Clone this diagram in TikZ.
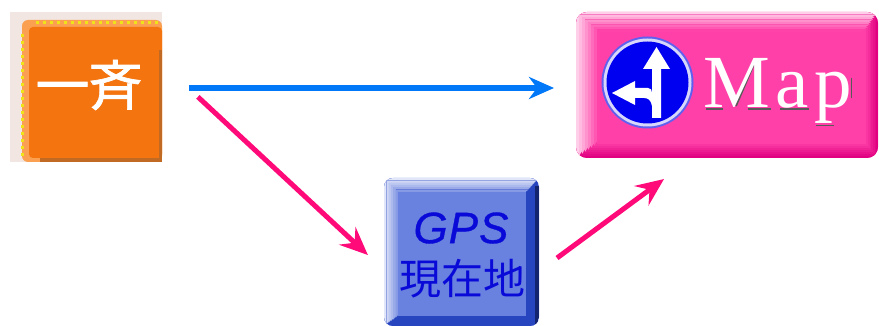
\documentclass[tikz,border=0pt]{standalone}
\usepackage{fontspec}
\setmainfont{Liberation Serif}
\newfontfamily\jpfont{Noto Sans CJK JP}
\newfontfamily\jpbold[FakeBold=1.2]{Noto Sans CJK JP}
\newfontfamily\gpsfont[FakeBold=0.8]{Liberation Sans}
\usetikzlibrary{arrows.meta,calc}
\definecolor{orangeFill}{HTML}{F47410}
\definecolor{orangeLight}{HTML}{FAA050}
\definecolor{orangeDark}{HTML}{C06A24}
\definecolor{speckle}{HTML}{F2E6E2}
\definecolor{dotYellow}{HTML}{EEE418}
\definecolor{mapFill}{HTML}{FF40A8}
\definecolor{mapDark}{HTML}{E00080}
\definecolor{gpsFill}{HTML}{6A82DF}
\definecolor{gpsDark}{HTML}{2845C0}
\definecolor{gpsNavy}{HTML}{14246E}
\definecolor{gpsText}{HTML}{0A0AD8}
\definecolor{flow}{HTML}{0078F8}
\definecolor{hot}{HTML}{FF0A78}
\definecolor{signBlue}{HTML}{0000F0}
\definecolor{signEdge}{HTML}{6060F0}
\tikzset{
  x=1pt,y=-1pt,
  boxnode/.style={inner sep=0pt,outer sep=0pt,minimum width=#1},
  flowline/.style={draw=flow,line width=6pt,-{Stealth[length=25pt,width=22pt,inset=8pt]}},
  hotline/.style={draw=hot,line width=5pt,-{Stealth[length=28pt,width=24pt,inset=10pt]}},
  signarrow/.style={fill=white,draw=none},
  glyphshade/.style={draw=black!65,line width=1.8pt},
}
\begin{document}
\begin{tikzpicture}
\useasboundingbox (0,0) rectangle (879,326);
% orange box
\node[boxnode=152pt,minimum height=150pt,fill=speckle,anchor=north west] (ichi) at (10,12) {};
\fill[orangeLight,rounded corners=6pt] (22,20) -- (162,20) -- (162,162) -- (22,162) -- cycle;
\fill[orangeFill,rounded corners=4pt] (29,27) -- (162,27) -- (162,158) -- (29,158) -- cycle;
\fill[orangeDark] (158.5,50) rectangle (162,162);
\fill[orangeDark] (40,158.5) rectangle (162,162);
\foreach \k in {0,...,17} {
  \fill[dotYellow] ({36+\k*7},21) rectangle +(3,3);
  \fill[dotYellow] (21,{34+\k*7}) rectangle +(3,3);
}
\node[font=\jpbold,text=white,inner sep=0pt] (ichitext) at (89,85) {\fontsize{54pt}{54pt}\selectfont 一\kern-1pt 斉};
% map button
\node[boxnode=302pt,minimum height=146pt,rounded corners=11pt,fill=mapFill,anchor=north west] (map) at (576,12) {};
\begin{scope}
  \clip[rounded corners=11pt] (576,12) rectangle (878,158);
  \foreach \i in {0,...,7} {
    \pgfmathsetmacro{\lt}{75-\i*10.5}
    \pgfmathsetmacro{\dk}{100-\i*14}
    \pgfmathsetmacro{\xa}{576+\i*3}
    \pgfmathsetmacro{\ya}{12+\i*2.5}
    \pgfmathsetmacro{\xb}{878-\i*1.7}
    \pgfmathsetmacro{\yb}{158-\i*2}
    \fill[mapDark!\dk!mapFill] (\xa,\ya) rectangle (\xb,\yb);
    \fill[white!\lt!mapFill] (\xa,\yb) -- (\xa,\ya) -- (\xb,\ya) -- ({\xb-40},{\ya+25}) -- ({\xa+25},{\yb-40}) -- cycle;
  }
  \fill[mapFill] (600,32) rectangle (866,144);
\end{scope}
\fill[signEdge] (647.5,82.5) circle (46);
\fill[white!75!signEdge] (647.5,82.5) circle (44);
\fill[signBlue] (647.5,82.5) circle (41);
\fill[signarrow] (652,118) -- (661,118) -- (661,69) -- (670,69) -- (656.5,47) -- (643,69) -- (652,69) -- cycle;
\fill[signarrow] (612,93) -- (635,81) -- (635,88) -- (648,88) .. controls (651,88) and (652,90) .. (652,93)
  -- (652,106) .. controls (651,100) and (648,98) .. (644,98) -- (635,98) -- (635,105) -- cycle;
% dark edge of the raised letters
\draw[glyphshade] (706,109) -- (723,109);
\draw[glyphshade] (748,109) -- (771,109);
\draw[glyphshade] (736,106) -- (754,64);
\draw[glyphshade] (780,109) -- (809,109);
\draw[glyphshade] (801,84) -- (801,106);
\draw[glyphshade] (816,125.5) -- (834,125.5);
\draw[glyphshade] (851.5,78) -- (851.5,98);
\node[anchor=base west,inner sep=0pt,text=white] (maptext) at (703,108) {\fontsize{75pt}{75pt}\selectfont M\kern5.5pt a\kern5.5pt p};
% gps button
\node[boxnode=155pt,minimum height=148pt,rounded corners=9pt,fill=gpsFill,anchor=north west] (gps) at (384,178) {};
\begin{scope}
  \clip[rounded corners=9pt] (384,178) rectangle (539,326);
  \foreach \i in {0,...,6} {
    \pgfmathsetmacro{\lt}{80-\i*12}
    \pgfmathsetmacro{\xa}{384+\i*2.3}
    \pgfmathsetmacro{\ya}{178+\i*2.3}
    \pgfmathsetmacro{\xb}{539-\i*2.1}
    \pgfmathsetmacro{\yb}{326-\i*1.6}
    \fill[gpsDark] (\xa,\ya) rectangle (\xb,\yb);
    \fill[white!\lt!gpsFill] (\xa,\yb) -- (\xa,\ya) -- (\xb,\ya) -- ({\xb-30},{\ya+25}) -- ({\xa+25},{\yb-30}) -- cycle;
  }
  \fill[gpsFill] (398,192) rectangle (526,316);
  \fill[gpsNavy] (534.5,186) rectangle (539,326);
\end{scope}
\node[font=\gpsfont\itshape,text=gpsText,inner sep=0pt] (gpsline) at (461,228) {\fontsize{44pt}{44pt}\selectfont G\kern1pt P\kern1pt S};
\node[font=\jpfont,text=gpsText,inner sep=0pt] (gpsjp) at (462,279) {\fontsize{42pt}{42pt}\selectfont 現在地};
% connectors
\draw[flowline,shorten <=27pt,shorten >=22pt] ([yshift=-1pt]ichi.east) -- ([yshift=-3pt]map.west);
\draw[hotline,shorten <=49pt,shorten >=22pt] ([yshift=23.5pt]ichi.east) -- ([yshift=-18pt]gps.west);
\draw[hotline,shorten <=22.4pt,shorten >=35.4pt] ([yshift=-19.3pt]gps.east) -- ([xshift=-34.5pt]map.south);
\end{tikzpicture}
\end{document}
